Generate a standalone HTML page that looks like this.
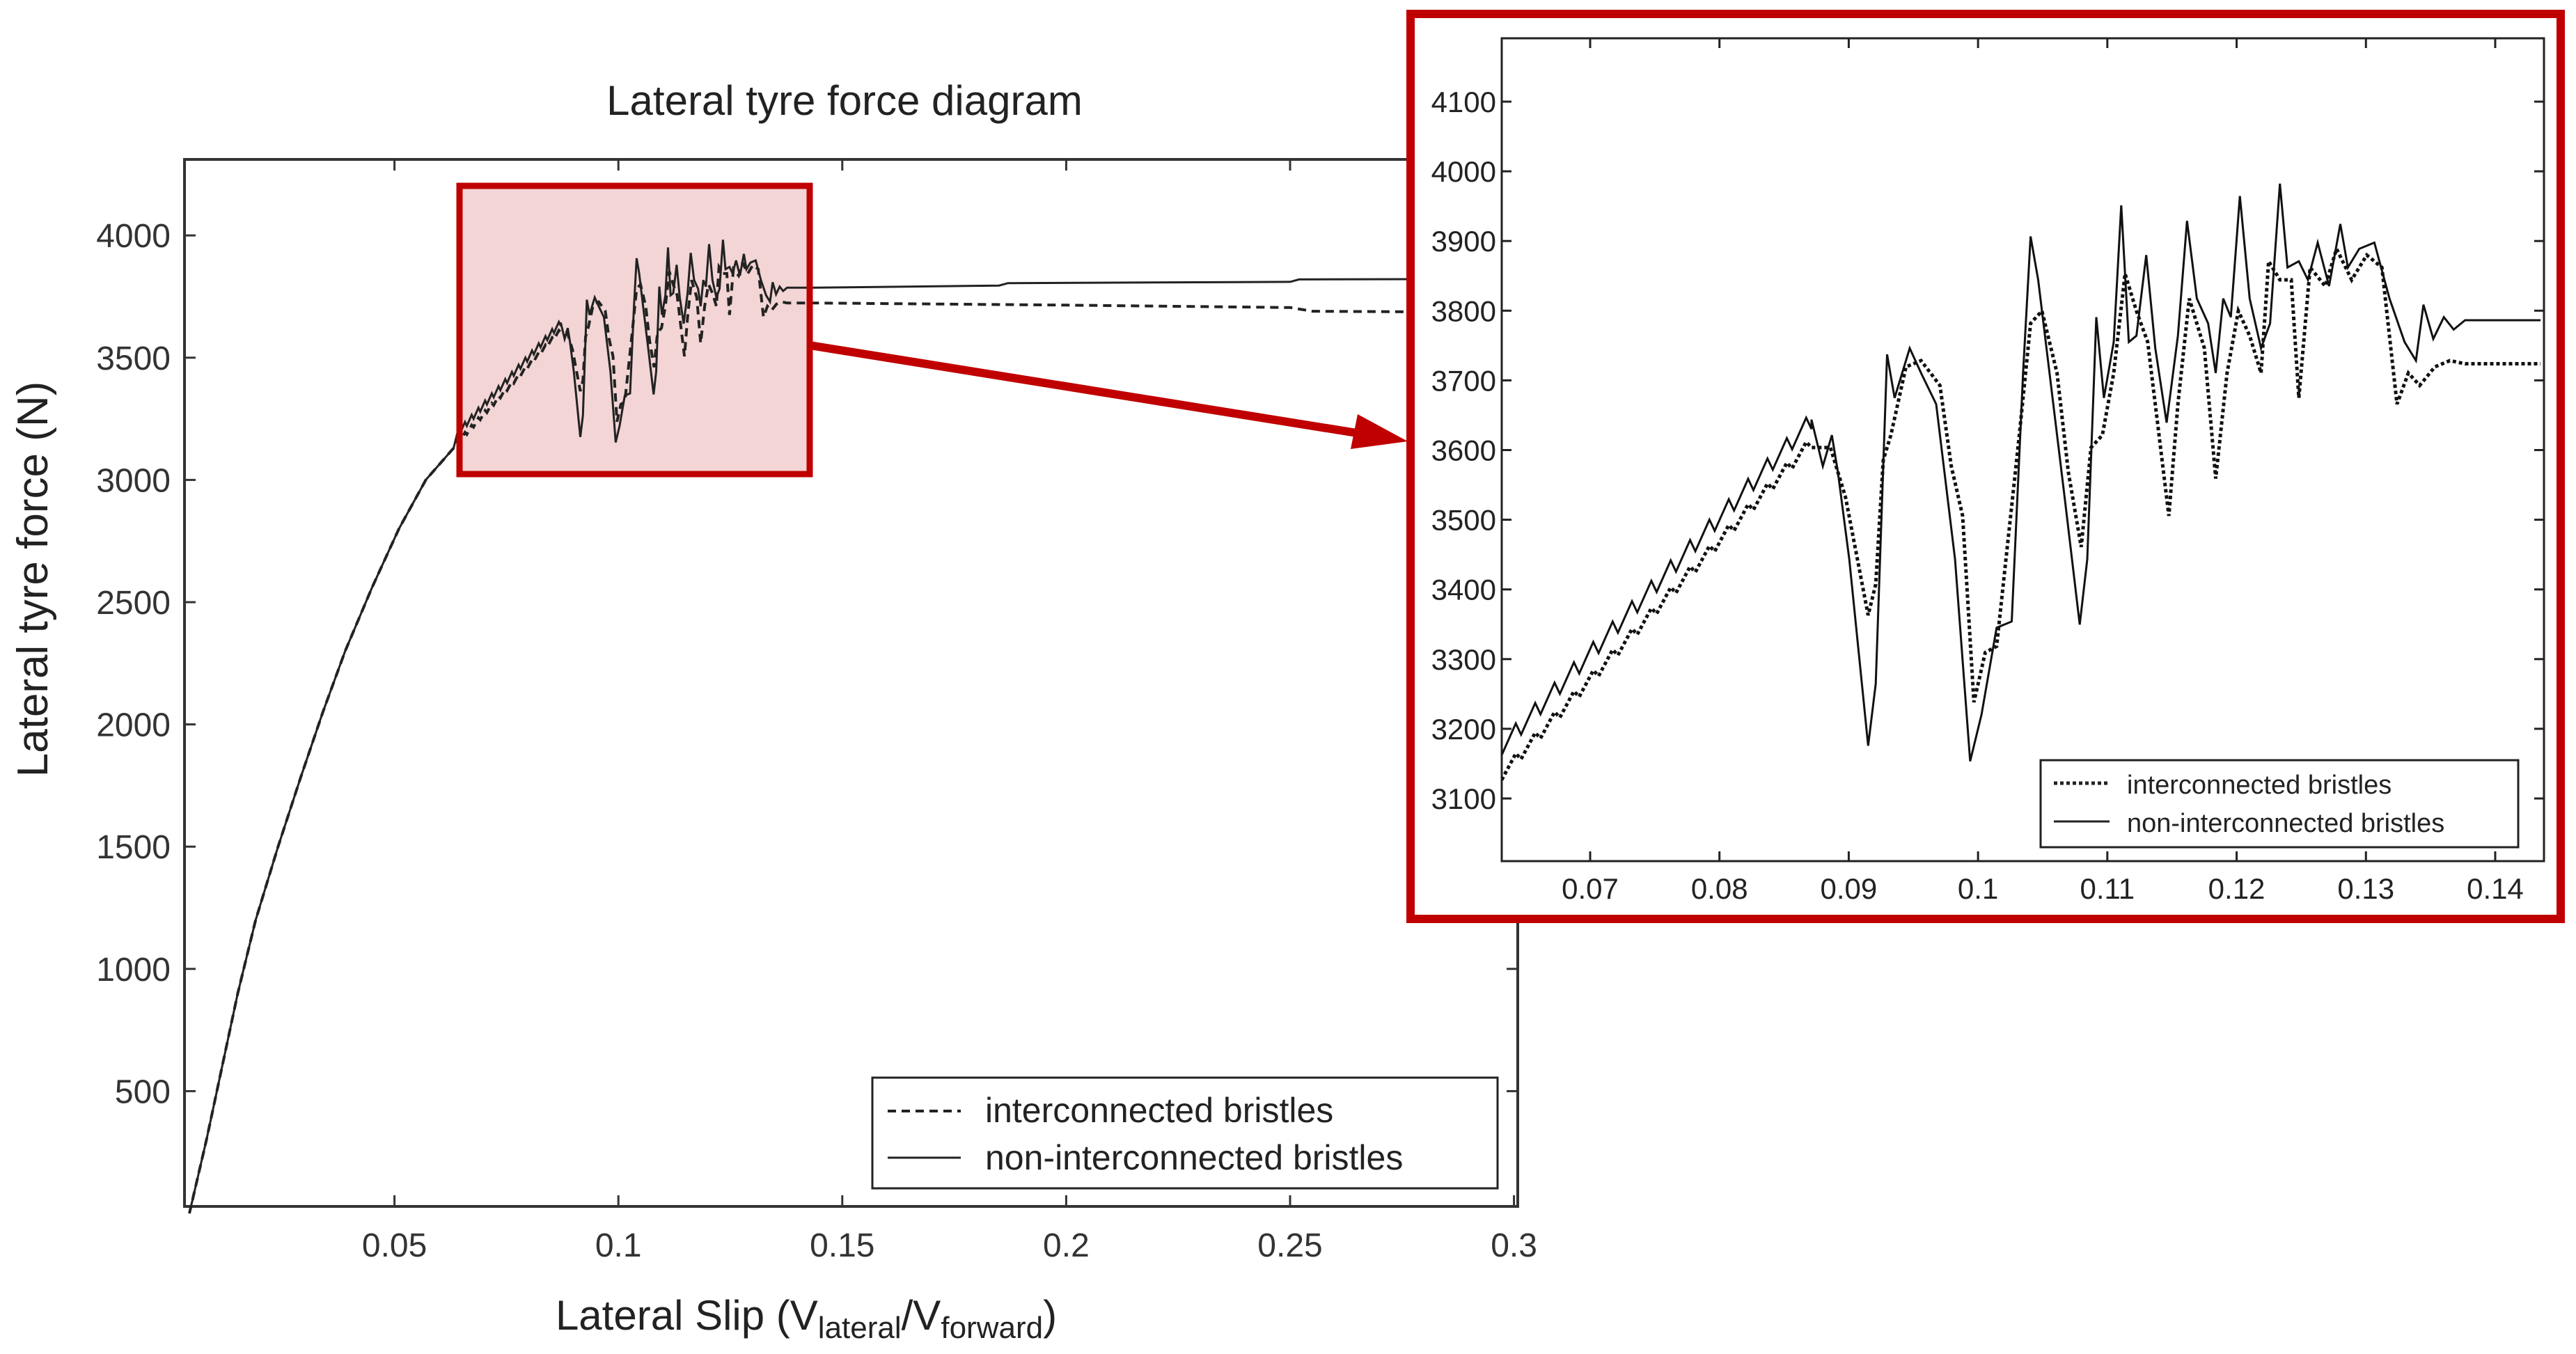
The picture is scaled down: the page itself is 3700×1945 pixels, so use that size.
<!DOCTYPE html>
<html><head><meta charset="utf-8">
<style>
html,body{margin:0;padding:0;background:#fff;}
svg{display:block;font-family:"Liberation Sans",Arial,sans-serif;}
</style></head>
<body>
<svg id="s" width="3700" height="1945" viewBox="0 0 3700 1945" xmlns="http://www.w3.org/2000/svg">
<rect width="3700" height="1945" fill="#fff"/>
<text x="1213" y="165" font-size="60" text-anchor="middle" fill="#222">Lateral tyre force diagram</text>
<text transform="translate(68,832) rotate(-90)" font-size="62" text-anchor="middle" fill="#222">Lateral tyre force (N)</text>
<text x="1158" y="1910" font-size="60" text-anchor="middle" fill="#222">Lateral Slip (V<tspan font-size="44" dy="12">lateral</tspan><tspan dy="-12">/V</tspan><tspan font-size="44" dy="12">forward</tspan><tspan dy="-12">)</tspan></text>
<rect x="660" y="267" width="503" height="414" fill="#f3d5d5"/>
<g id="main"></g>
<rect x="660" y="267" width="503" height="414" fill="none" stroke="#c00000" stroke-width="9"/>
<rect x="1253" y="1548" width="898" height="159" fill="#fff" stroke="#222" stroke-width="3"/>
<line x1="1275" y1="1596" x2="1380" y2="1596" stroke="#222" stroke-width="4" stroke-dasharray="12 8"/>
<line x1="1275" y1="1663" x2="1380" y2="1663" stroke="#222" stroke-width="3"/>
<text x="1415" y="1612" font-size="50" fill="#222">interconnected bristles</text>
<text x="1415" y="1680" font-size="50" fill="#222">non-interconnected bristles</text>
<line x1="1163" y1="496" x2="1955" y2="623" stroke="#c00000" stroke-width="12"/>
<polygon points="2022,634 1940,645 1950,595" fill="#c00000"/>
<rect x="2026" y="20" width="1652" height="1300" fill="#fff" stroke="#c00000" stroke-width="12"/>
<g id="inset"></g>
<rect x="2931" y="1092" width="686" height="125" fill="#fff" stroke="#222" stroke-width="3"/>
<line x1="2950" y1="1125" x2="3030" y2="1125" stroke="#222" stroke-width="5" stroke-dasharray="5 4"/>
<line x1="2950" y1="1180" x2="3030" y2="1180" stroke="#222" stroke-width="3"/>
<text x="3055" y="1140" font-size="38" fill="#222">interconnected bristles</text>
<text x="3055" y="1195" font-size="38" fill="#222">non-interconnected bristles</text>
</svg>
<script>
var NS="http://www.w3.org/2000/svg";
function el(p,t,a,txt){var e=document.createElementNS(NS,t);for(var k in a)e.setAttribute(k,a[k]);if(txt!=null)e.textContent=txt;p.appendChild(e);return e;}
var solidZ=[[145,1215],[555,690],[555,675],[570,750],[582,700],[590,760],[605,900],[630,1200],[640,1100],[655,570],[665,640],[685,560],[700,600],[720,650],[745,900],[765,1225],[780,1150],[800,1010],[820,1000],[835,600],[845,380],[855,450],[870,600],[890,800],[910,1005],[920,900],[932,510],[942,640],[955,550],[965,330],[975,550],[985,540],[998,410],[1010,560],[1025,680],[1040,540],[1052,355],[1065,480],[1080,520],[1090,600],[1100,480],[1110,510],[1122,315],[1135,480],[1150,560],[1162,520],[1175,295],[1185,430],[1200,420],[1212,450],[1225,390],[1240,460],[1255,360],[1265,430],[1280,400],[1300,390],[1320,480],[1340,550],[1355,580],[1365,490],[1378,545],[1392,510],[1405,530],[1420,515],[1520,515]];
var dotZ=[[145,1255],[555,720],[580,720],[600,800],[630,990],[640,940],[650,740],[660,700],[680,590],[700,580],[725,620],[740,750],[755,830],[770,1130],[785,1050],[800,1040],[830,700],[845,520],[860,500],[880,600],[895,760],[912,880],[925,720],[940,700],[955,600],[970,440],[985,500],[1000,550],[1015,700],[1028,830],[1040,650],[1055,480],[1075,560],[1090,770],[1105,600],[1120,500],[1135,540],[1150,600],[1160,420],[1175,450],[1190,450],[1200,640],[1215,430],[1235,460],[1250,400],[1270,450],[1290,410],[1310,430],[1330,650],[1345,600],[1360,620],[1380,590],[1400,580],[1420,585],[1520,585]];
function expand(z,amp){var out=[z[0]];var a=z[0],b=z[1];var n=16;for(var i=1;i<=n;i++){var t=i/n;var x=a[0]+(b[0]-a[0])*t,y=a[1]+(b[1]-a[1])*t;out.push([x-7,y-amp]);out.push([x,y]);}for(var j=2;j<z.length;j++)out.push(z[j]);return out;}
function toData(z){return z.map(function(p){return [0.07+(p[0]-262)/17114,4100-(p[1]-163)/1.122];});}
var solid=toData(expand(solidZ,18)),dot=toData(expand(dotZ,9));
function ix(v){return 2284+(v-0.07)*18571;} function iy(F){return 146+(4100-F)*1.001;}
var L=2157,R=3654,T=55,B=1237;
var g=document.getElementById('inset');
el(g,'rect',{x:L,y:T,width:R-L,height:B-T,fill:'none',stroke:'#222','stroke-width':3});
for(var v=0.07;v<0.1405;v+=0.01){var x=ix(v);el(g,'line',{x1:x,y1:B,x2:x,y2:B-14,stroke:'#222','stroke-width':3});el(g,'line',{x1:x,y1:T,x2:x,y2:T+14,stroke:'#222','stroke-width':3});el(g,'text',{x:x,y:B+54,'font-size':42,'text-anchor':'middle',fill:'#222'},String(Math.round(v*100)/100));}
for(var F=3100;F<=4100;F+=100){var y=iy(F);el(g,'line',{x1:L,y1:y,x2:L+14,y2:y,stroke:'#222','stroke-width':3});el(g,'line',{x1:R,y1:y,x2:R-14,y2:y,stroke:'#222','stroke-width':3});el(g,'text',{x:L-8,y:y+15,'font-size':42,'text-anchor':'end',fill:'#222'},F);}
function pts(d,fx,fy){return d.map(function(p){return fx(p[0]).toFixed(1)+','+fy(p[1]).toFixed(1);}).join(' ');}
var cp=el(g,'clipPath',{id:'ic'});el(cp,'rect',{x:L,y:T,width:R-L,height:B-T});
el(g,'polyline',{points:pts(dot,ix,iy),fill:'none',stroke:'#111','stroke-width':5,'stroke-dasharray':'5 4','clip-path':'url(#ic)'});
el(g,'polyline',{points:pts(solid,ix,iy),fill:'none',stroke:'#111','stroke-width':3,'clip-path':'url(#ic)'});
var m=document.getElementById('main');
function mx(v){return 245+v*6432;} function my(F){return 1743-F*0.3512;}
var mL=265,mR=2180,mT=229,mB=1733;
el(m,'rect',{x:mL,y:mT,width:mR-mL,height:mB-mT,fill:'none',stroke:'#333','stroke-width':4});
[0.05,0.1,0.15,0.2,0.25,0.3].forEach(function(v){var x=mx(v);el(m,'line',{x1:x,y1:mB,x2:x,y2:mB-16,stroke:'#333','stroke-width':3});el(m,'line',{x1:x,y1:mT,x2:x,y2:mT+16,stroke:'#333','stroke-width':3});el(m,'text',{x:x,y:mB+72,'font-size':48,'text-anchor':'middle',fill:'#333'},String(v));});
for(var F=500;F<=4000;F+=500){var y=my(F);el(m,'line',{x1:mL,y1:y,x2:mL+16,y2:y,stroke:'#333','stroke-width':3});el(m,'line',{x1:mR,y1:y,x2:mR-16,y2:y,stroke:'#333','stroke-width':3});el(m,'text',{x:mL-20,y:y+17,'font-size':48,'text-anchor':'end',fill:'#333'},F);}
var rise=[[0.0042,0],[0.008,300],[0.0115,600],[0.015,900],[0.019,1200],[0.024,1500],[0.029,1780],[0.034,2050],[0.039,2300],[0.045,2560],[0.051,2800],[0.057,3000],[0.0632,3130]];
var s2=rise.concat(solid.filter(function(p){return p[0]>0.0635;})).concat([[0.185,3795],[0.187,3805],[0.25,3810],[0.252,3820],[0.3,3822]]);
var d2=rise.concat(dot.filter(function(p){return p[0]>0.0635;})).concat([[0.2,3715],[0.25,3705],[0.255,3690],[0.3,3685]]);
el(m,'polyline',{points:pts(d2,mx,my),fill:'none',stroke:'#222','stroke-width':4,'stroke-dasharray':'12 8'});
el(m,'polyline',{points:pts(s2,mx,my),fill:'none',stroke:'#222','stroke-width':3});
</script>
</body></html>
